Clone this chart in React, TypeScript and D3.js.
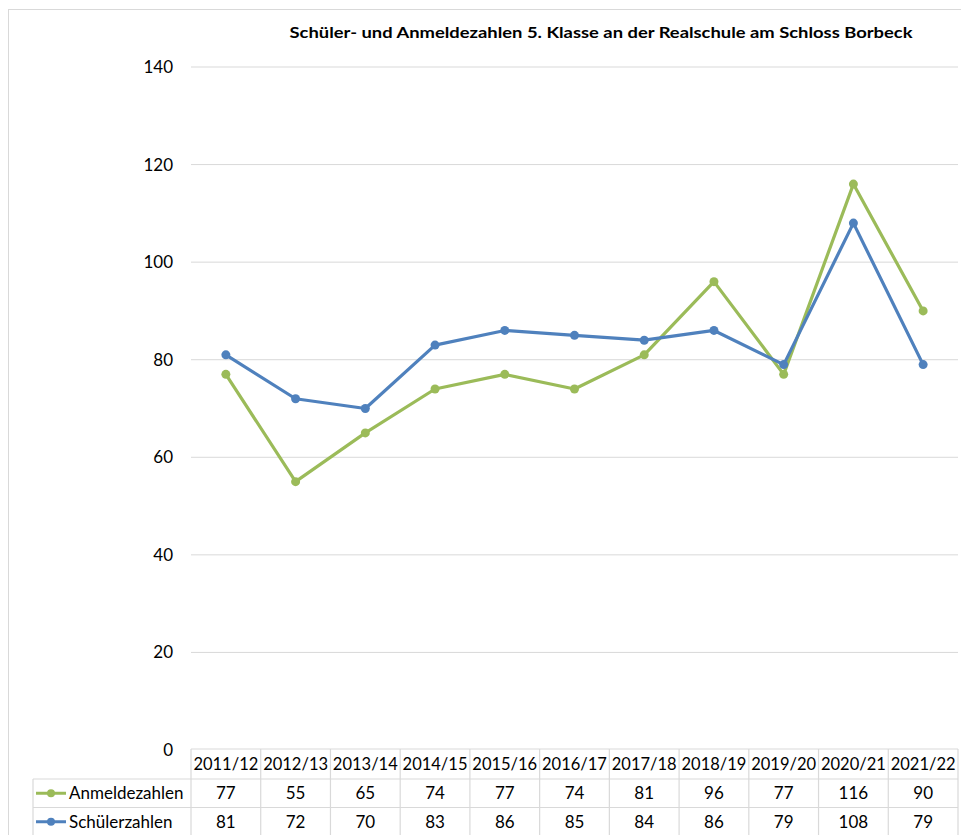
import React from "react";
import * as d3 from "d3";

const title = "Schüler- und Anmeldezahlen 5. Klasse an der Realschule am Schloss Borbeck";
const years = ["2011/12", "2012/13", "2013/14", "2014/15", "2015/16", "2016/17", "2017/18", "2018/19", "2019/20", "2020/21", "2021/22"];
const anmeldezahlen = [77, 55, 65, 74, 77, 74, 81, 96, 77, 116, 90];
const schuelerzahlen = [81, 72, 70, 83, 86, 85, 84, 86, 79, 108, 79];
const yTicks = [0, 20, 40, 60, 80, 100, 120, 140];

const series = [
  { name: "Anmeldezahlen", values: anmeldezahlen, color: "#9BBB59" },
  { name: "Schülerzahlen", values: schuelerzahlen, color: "#4F81BD" },
];

const W = 961;
const H = 835;
const left = 191;
const right = 958;
const top = 67;
const bottom = 750;
const rowH = 28.5;
const legendLeft = 33;
const font = "Lato, 'Open Sans', sans-serif";
const gridColor = "#d9d9d9";

export default function App() {
  const x = d3.scaleBand<string>().domain(years).range([left, right]);
  const y = d3.scaleLinear().domain([0, 140]).range([bottom, top]);
  const cx = (i: number) => (x(years[i]) as number) + x.bandwidth() / 2;
  const line = d3
    .line<number>()
    .x((_, i) => cx(i))
    .y((d) => y(d));

  const headerTop = bottom - 1;
  const rows = [headerTop, headerTop + 30, headerTop + 30 + rowH, headerTop + 30 + 2 * rowH];

  return (
    <svg width={W} height={H} style={{ position: "absolute", left: 0, top: 0, background: "#fff" }} fontFamily={font}>
      <rect x={8.5} y={9.5} width={W} height={H} fill="#fff" stroke={gridColor} />
      <text x={601} y={38} textAnchor="middle" fontSize={15.5} fontWeight="bold" fill="#000" textLength={623} lengthAdjust="spacingAndGlyphs">
        {title}
      </text>

      {yTicks.map((t) => (
        <g key={t}>
          {t > 0 && <line x1={left} x2={right} y1={y(t)} y2={y(t)} stroke={gridColor} strokeWidth={1} />}
          <text x={173} y={y(t)} dy="0.35em" textAnchor="end" fontSize={17} fill="#000">
            {t}
          </text>
        </g>
      ))}

      {series.map((s) => (
        <g key={s.name}>
          <path d={line(s.values) as string} fill="none" stroke={s.color} strokeWidth={3.2} strokeLinejoin="round" />
          {s.values.map((v, i) => (
            <circle key={i} cx={cx(i)} cy={y(v)} r={4.5} fill={s.color} />
          ))}
        </g>
      ))}

      {/* data table */}
      <g stroke={gridColor} strokeWidth={1.2}>
        <line x1={left} x2={right} y1={rows[0]} y2={rows[0]} />
        <line x1={legendLeft} x2={right} y1={rows[1]} y2={rows[1]} />
        <line x1={legendLeft} x2={right} y1={rows[2]} y2={rows[2]} />
        <line x1={legendLeft} x2={right} y1={rows[3]} y2={rows[3]} />
        <line x1={legendLeft} x2={legendLeft} y1={rows[1]} y2={H} />
        {years.map((yr) => (
          <line key={yr} x1={x(yr)} x2={x(yr)} y1={rows[0]} y2={H} />
        ))}
        <line x1={right} x2={right} y1={rows[0]} y2={H} />
      </g>
      {years.map((yr, i) => (
        <text key={yr} x={cx(i)} y={rows[0] + 21} textAnchor="middle" fontSize={16.5} fill="#000">
          {yr}
        </text>
      ))}
      {series.map((s, si) => {
        const rt = rows[1 + si];
        return (
          <g key={s.name}>
            <line x1={36} x2={66} y1={rt + rowH / 2} y2={rt + rowH / 2} stroke={s.color} strokeWidth={3} />
            <circle cx={51} cy={rt + rowH / 2} r={4} fill={s.color} />
            <text x={69} y={rt + 20} fontSize={17} fill="#000">
              {s.name}
            </text>
            {s.values.map((v, i) => (
              <text key={i} x={cx(i)} y={rt + 20} textAnchor="middle" fontSize={17} fill="#000">
                {v}
              </text>
            ))}
          </g>
        );
      })}
    </svg>
  );
}
